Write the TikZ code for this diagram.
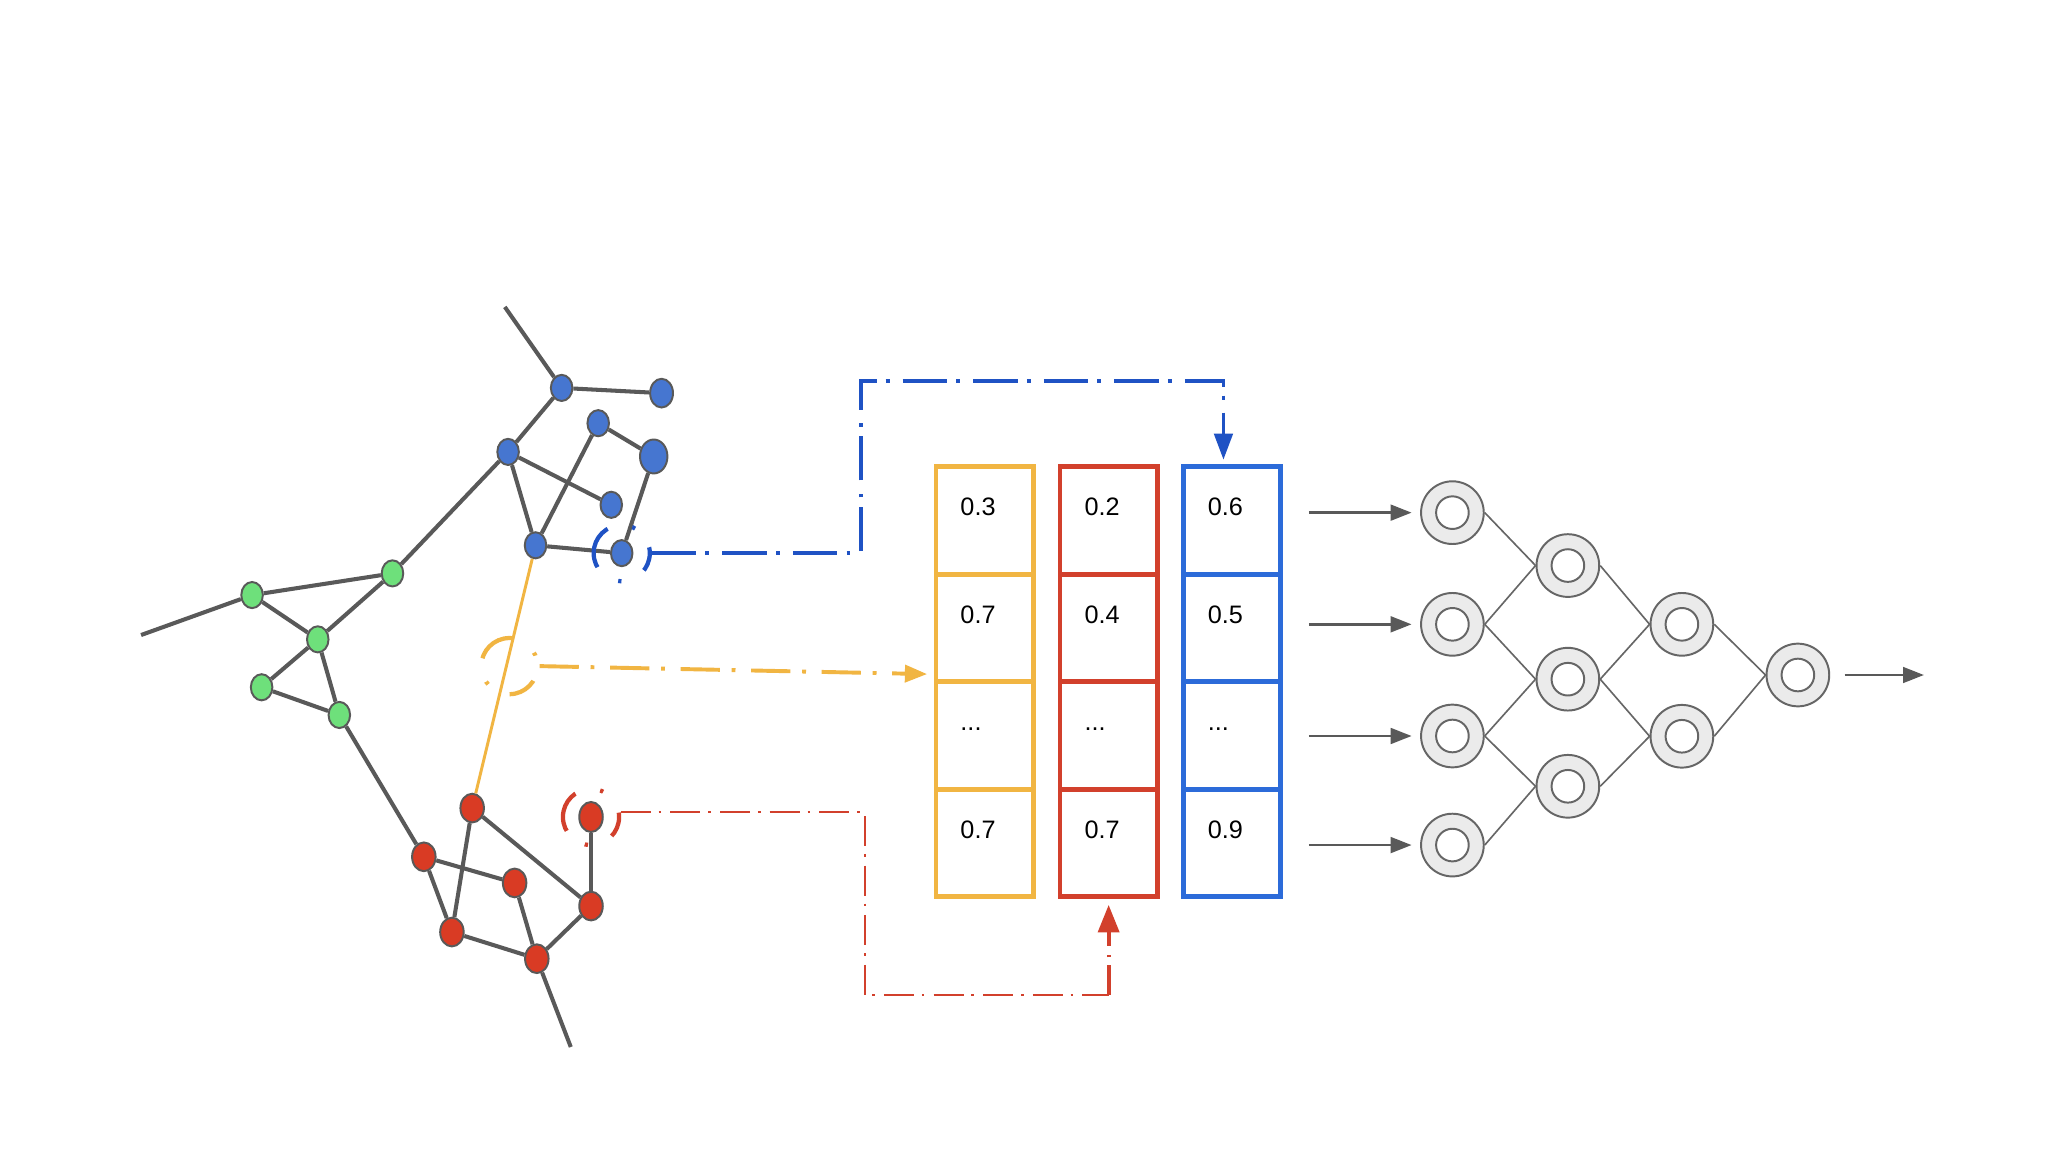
\documentclass[tikz,border=0pt]{standalone}
\usepackage{fontspec}
\setmainfont{Liberation Sans}
\usetikzlibrary{shapes.geometric,arrows.meta,positioning}

\definecolor{edgegray}{HTML}{595959}
\definecolor{nodeblue}{HTML}{4676D0}
\definecolor{nodegreen}{HTML}{6EE07B}
\definecolor{nodered}{HTML}{D93B24}
\definecolor{linkyellow}{HTML}{F1B542}
\definecolor{boxred}{HTML}{D2402C}
\definecolor{boxblue}{HTML}{2C6BD9}
\definecolor{ringblue}{HTML}{1F52C4}
\definecolor{nngray}{HTML}{666666}
\definecolor{nnfill}{HTML}{EBEBEB}

\newcommand{\gapdots}{...}

\begin{document}
\begin{tikzpicture}[
    x=0.2mm, y=-0.2mm,
    vertex/.style={ellipse, draw=edgegray, line width=0.3mm, inner sep=0pt, minimum width=3.3mm, minimum height=4mm},
    bond/.style={draw=edgegray, line width=0.62mm},
    ring/.style={circle, draw, line width=0.65mm, inner sep=0pt, minimum size=8.6mm},
    cell/.style={rectangle, draw, line width=0.72mm, minimum width=14.88mm, minimum height=16.46mm},
    val/.style={anchor=base west, inner sep=0pt, font=\fontsize{11}{13}\selectfont},
    neuron/.style={circle, draw=nngray, fill=nnfill, line width=0.3mm, minimum size=9.6mm, inner sep=0pt,
        path picture={\draw[nngray, fill=white, line width=0.3mm] (path picture bounding box.center) circle (2.5mm);}},
    wire/.style={draw=nngray, line width=0.25mm},
    feed/.style={draw=edgegray, line width=0.4mm, -{Triangle[length=3.2mm, width=2.4mm]}},
    bluelink/.style={draw=ringblue, line width=0.6mm, dash pattern=on 6.8mm off 1.4mm on 0.6mm off 2mm,
        -{Triangle[length=4mm, width=2.8mm]}, shorten >=0.7mm},
    yellowlink/.style={draw=linkyellow, line width=0.6mm, dash pattern=on 6mm off 1.8mm on 0.6mm off 2.4mm,
        -{Triangle[length=3.4mm, width=2.6mm]}, shorten >=1mm},
    redlink/.style={draw=boxred, line width=0.3mm, dash pattern=on 4.6mm off 1.2mm on 0.4mm off 1.4mm}
]
    \path[fill=white] (0,0) rectangle (1568,882);

    % Blue cluster
    \node[vertex, fill=nodeblue] (blue1) at (430,297) {};
    \node[vertex, fill=nodeblue, minimum width=3.5mm, minimum height=4.4mm] (blue2) at (506.5,301) {};
    \node[vertex, fill=nodeblue] (blue3) at (458,324) {};
    \node[vertex, fill=nodeblue, minimum width=4.2mm, minimum height=5.2mm] (blue4) at (500.5,349.5) {};
    \node[vertex, fill=nodeblue] (blue5) at (389,346) {};
    \node[vertex, fill=nodeblue] (blue6) at (468,386.5) {};
    \node[vertex, fill=nodeblue] (blue7) at (410,417.5) {};
    \node[vertex, fill=nodeblue] (blue8) at (476,423.5) {};
    \coordinate (bluetop) at (386.5,235);

    % Green cluster
    \node[vertex, fill=nodegreen] (green1) at (193,455.6) {};
    \node[vertex, fill=nodegreen] (green2) at (300.5,439) {};
    \node[vertex, fill=nodegreen] (green3) at (243.3,489.5) {};
    \node[vertex, fill=nodegreen] (green4) at (200.3,526.2) {};
    \node[vertex, fill=nodegreen] (green5) at (259.8,547.4) {};
    \coordinate (greenleft) at (108,486.2);

    % Red cluster
    \node[vertex, fill=nodered, minimum width=3.6mm, minimum height=4.4mm] (red1) at (361.5,618.7) {};
    \node[vertex, fill=nodered, minimum width=3.6mm, minimum height=4.4mm] (red2) at (324.5,656) {};
    \node[vertex, fill=nodered, minimum width=3.6mm, minimum height=4.4mm] (red3) at (394,676) {};
    \node[vertex, fill=nodered, minimum width=3.6mm, minimum height=4.4mm] (red4) at (346,713.6) {};
    \node[vertex, fill=nodered, minimum width=3.6mm, minimum height=4.4mm] (red5) at (411,734) {};
    \node[vertex, fill=nodered, minimum width=3.6mm, minimum height=4.4mm] (red6) at (452.5,693.7) {};
    \node[vertex, fill=nodered, minimum width=3.6mm, minimum height=4.6mm] (red7) at (452.5,625.5) {};
    \coordinate (redbottom) at (437,801.6);

    % Edges
    \draw[bond] (bluetop) -- (blue1) -- (blue2);
    \draw[bond] (blue1) -- (blue5) -- (blue6);
    \draw[bond] (blue5) -- (blue7) -- (blue8) -- (blue4) -- (blue3) -- (blue7);
    \draw[bond] (blue5) -- (green2);
    \draw[bond] (greenleft) -- (green1) -- (green2) -- (green3) -- (green1);
    \draw[bond] (green3) -- (green4) -- (green5) -- (green3);
    \draw[bond] (green5) -- (red2) -- (red3) -- (red5) -- (red4) -- (red2);
    \draw[bond] (red4) -- (red1) -- (red6) -- (red5) -- (redbottom);
    \draw[bond] (red6) -- (red7);
    \draw[linkyellow, line width=0.45mm] (blue7) -- (red1);

    % Highlight rings
    \node[ring, draw=ringblue, dash pattern=on 3.75mm off 3.7mm on 0.5mm off 3.9mm on 6.75mm off 3.95mm on 0.5mm off 3.96mm,
        dash phase=2.85mm] (ringb) at (blue8) {};
    \node[ring, draw=linkyellow, dash pattern=on 4.35mm off 4.05mm on 0.5mm off 4.2mm on 5.93mm off 3.75mm on 0.5mm off 3.74mm,
        dash phase=6.75mm] (ringy) at (390,510) {};
    \node[ring, draw=boxred, dash pattern=on 3.9mm off 4.15mm on 0.5mm off 3.95mm on 6.45mm off 3.55mm on 0.5mm off 4.02mm,
        dash phase=3.23mm] (ringr) at (red7) {};

    % Embedding columns
    \foreach \col/\cx/\clr/\va/\vb/\vd in {y/753.8/linkyellow/0.3/0.7/0.7, r/848.8/boxred/0.2/0.4/0.7, b/943.2/boxblue/0.6/0.5/0.9}{
        \foreach \row/\cy/\val in {1/398.45/\va, 2/480.75/\vb, 3/563.05/\gapdots, 4/645.35/\vd}{
            \node[cell, draw=\clr] (\col cell\row) at (\cx,\cy) {};
            \node[val] (\col txt\row) at ([xshift=-3.76mm, yshift=0.73mm]\col cell\row.center) {\val};
        }
    }

    % Links from the graph
    \coordinate (bcorner) at (659.5,291.5);
    \draw[bluelink] (ringb.east) -| (bcorner) -| ([xshift=-1.3mm]bcell1.north);
    \draw[yellowlink] (ringy.east) -- ([yshift=1.5mm]ycell2.south west);
    \coordinate (rcorner) at (662,762);
    \coordinate (rturn) at (rcell4.south |- rcorner);
    \draw[redlink] (ringr.10) -| (rcorner) -- (rturn);
    \draw[redlink, line width=0.6mm, -{Triangle[length=4.2mm, width=3.2mm]}, shorten >=0.9mm] (rturn) -- (rcell4.south);

    % Network
    \foreach \i/\y in {1/392.5, 2/478, 3/563.5, 4/647}{
        \node[neuron] (inp\i) at (1112,\y) {};
        \coordinate (src\i) at (1002,\y);
        \draw[feed, shorten >=1.3mm] (src\i) -- (inp\i);
    }
    \node[neuron] (hida1) at (1200.4,433) {};
    \node[neuron] (hida2) at (1200.4,520) {};
    \node[neuron] (hida3) at (1200.4,602) {};
    \node[neuron] (hidb1) at (1287.7,478) {};
    \node[neuron] (hidb2) at (1287.7,563.7) {};
    \node[neuron] (outp) at (1376.5,516.8) {};
    \foreach \a/\b in {inp1/hida1, inp2/hida1, inp2/hida2, inp3/hida2, inp3/hida3, inp4/hida3,
        hida1/hidb1, hida2/hidb1, hida2/hidb2, hida3/hidb2, hidb1/outp, hidb2/outp}
        \draw[wire] (\a.east) -- (\b.west);
    \coordinate (dst) at (1473,516.8);
    \draw[feed, shorten <=2.2mm] (outp.east) -- (dst);
\end{tikzpicture}
\end{document}
